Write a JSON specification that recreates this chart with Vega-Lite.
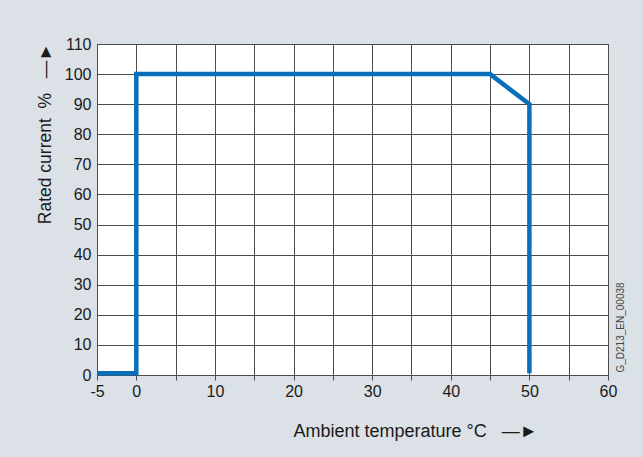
{
  "$schema": "https://vega.github.io/schema/vega-lite/v6.json",
  "width": 511,
  "height": 331,
  "autosize": {"type": "none"},
  "padding": {"left": 97, "top": 44, "right": 35, "bottom": 82},
  "background": "#dbe1e6",
  "config": {
    "view": {"fill": "white", "stroke": "#4d4d4d", "strokeWidth": 1},
    "font": "Liberation Sans"
  },
  "data": {
    "values": [
      {"i": 1, "temp": -5, "current": 0.6},
      {"i": 2, "temp": 0, "current": 0.6},
      {"i": 3, "temp": 0, "current": 100},
      {"i": 4, "temp": 45, "current": 100},
      {"i": 5, "temp": 50, "current": 90},
      {"i": 6, "temp": 50, "current": 0.6}
    ]
  },
  "layer": [
    {
      "mark": {"type": "line", "color": "#0870bb", "strokeWidth": 4.5, "strokeJoin": "miter", "clip": false},
      "encoding": {
        "x": {
          "field": "temp",
          "type": "quantitative",
          "scale": {"domain": [-5, 60], "nice": false, "zero": false},
          "axis": {
            "values": [-5, 0, 5, 10, 15, 20, 25, 30, 35, 40, 45, 50, 55, 60],
            "labelExpr": "datum.value == -5 ? '-5' : (datum.value % 10 == 0 ? datum.label : '')",
            "title": "Ambient temperature °C\u00a0\u00a0\u00a0—►",
            "grid": true,
            "gridColor": "#4d4d4d",
            "gridOpacity": 1,
            "gridWidth": 1,
            "domainColor": "#4d4d4d",
            "tickColor": "#4d4d4d",
            "tickSize": 5,
            "labelPadding": 3,
            "labelFontSize": 16,
            "labelColor": "#1a1a1a",
            "labelFlush": false,
            "labelOverlap": false,
            "labelBound": false,
            "titleFontSize": 18,
            "titleFontWeight": "normal",
            "titleColor": "#1a1a1a",
            "titleX": 318,
            "titleY": 61,
            "titleAlign": "center",
            "titleBaseline": "alphabetic"
          }
        },
        "y": {
          "field": "current",
          "type": "quantitative",
          "scale": {"domain": [0, 110], "nice": false, "zero": true},
          "axis": {
            "values": [0, 10, 20, 30, 40, 50, 60, 70, 80, 90, 100, 110],
            "title": "Rated current\u00a0\u00a0%\u00a0\u00a0\u00a0—►",
            "grid": true,
            "gridColor": "#4d4d4d",
            "gridOpacity": 1,
            "gridWidth": 1,
            "domainColor": "#4d4d4d",
            "ticks": false,
            "tickSize": 0,
            "labelPadding": 6,
            "labelFontSize": 16,
            "labelColor": "#1a1a1a",
            "labelFlush": false,
            "labelOverlap": false,
            "labelBound": false,
            "titleFontSize": 17.5,
            "titleFontWeight": "normal",
            "titleColor": "#1a1a1a",
            "titleAngle": -90,
            "titleX": -47,
            "titleY": -1,
            "titleAlign": "right",
            "titleBaseline": "alphabetic"
          }
        },
        "order": {"field": "i", "type": "quantitative"}
      }
    },
    {
      "mark": {"type": "rule", "opacity": 0},
      "encoding": {
        "y": {
          "field": "current",
          "type": "quantitative",
          "axis": {
            "orient": "right",
            "title": "G_D213_EN_00038",
            "labels": false,
            "ticks": false,
            "domain": false,
            "grid": false,
            "titleFontSize": 10,
            "titleFontWeight": "normal",
            "titleColor": "#444444",
            "titleAngle": -90,
            "titleX": 12,
            "titleY": 328,
            "titleAlign": "left",
            "titleBaseline": "middle"
          }
        }
      }
    }
  ],
  "resolve": {"axis": {"y": "independent"}}
}
